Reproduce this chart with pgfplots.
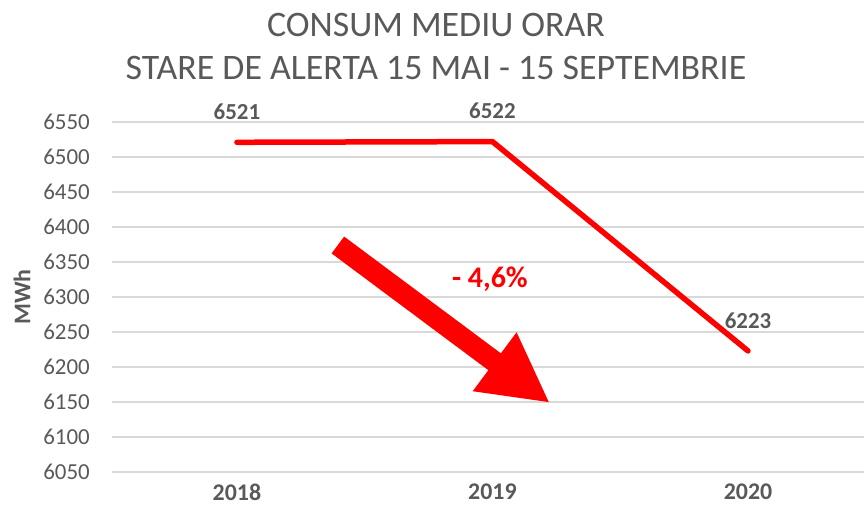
\documentclass[border=0pt]{standalone}
\usepackage{fontspec}
\setmainfont{Carlito}
\usepackage{pgfplots}
\pgfplotsset{compat=1.18}
\usetikzlibrary{arrows.meta}
\definecolor{txtgray}{HTML}{595959}
\definecolor{gridgray}{HTML}{D9D9D9}
\definecolor{xlred}{HTML}{FF0000}
\begin{document}
\begin{tikzpicture}
\useasboundingbox (-112bp,-33bp) rectangle (752bp,472bp);
\begin{axis}[
  at={(0,0)}, anchor=south west,
  scale only axis, width=752bp, height=350bp,
  xmin=2017.511, xmax=2020.454,
  ymin=6050, ymax=6550,
  xtick={2018,2019,2020}, xticklabels={2018,2019,2020},
  ytick={6050,6100,...,6550},
  /pgf/number format/1000 sep={},
  /pgf/number format/assume math mode=true,
  axis line style={draw=none},
  major tick length=0pt,
  ymajorgrids, xmajorgrids=false,
  major grid style={color=gridgray, line width=1.6bp},
  yticklabel style={font=\fontsize{23}{27}\selectfont, text=txtgray, anchor=east, inner sep=0pt, xshift=-22bp},
  xticklabel style={font=\fontsize{24}{28}\selectfont\bfseries, text=txtgray, anchor=north, inner sep=0pt, yshift=-12bp},
  ylabel={MWh},
  ylabel style={at={(axis description cs:-0.1197,0.5)}, anchor=center, font=\fontsize{24}{28}\selectfont\bfseries, text=txtgray},
  clip=false,
  nodes near coords,
  nodes near coords style={font=\fontsize{23}{27}\selectfont\bfseries, text=txtgray, anchor=center, yshift=30.5bp},
]
\addplot[color=xlred, line width=5.5bp, line cap=round, line join=round, mark=none]
  coordinates {(2018,6521) (2019,6522) (2020,6223)};
\draw[xlred, line width=21bp, -{Triangle[length=69bp,width=68bp]}]
  (axis cs:2018.395,6374.3) -- (axis cs:2019.225,6148.6);
\node[anchor=base, text=xlred, font=\fontsize{30}{36}\selectfont\bfseries]
  at (axis cs:2018.99,6312.9) {- 4,6\%};
\end{axis}
\node[anchor=base, text=txtgray, font=\fontsize{36}{43}\selectfont] at (324bp,435.3bp) {CONSUM MEDIU ORAR};
\node[anchor=base, text=txtgray, font=\fontsize{36}{43}\selectfont] at (324bp,392bp) {STARE DE ALERTA 15 MAI - 15 SEPTEMBRIE};
\end{tikzpicture}
\end{document}
